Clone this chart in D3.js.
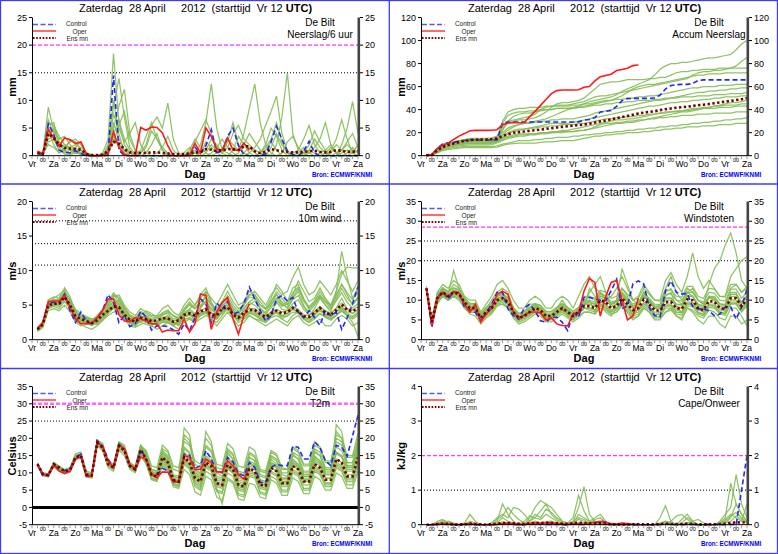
<!DOCTYPE html>
<html>
<head>
<meta charset="utf-8">
<script src="https://cdn.jsdelivr.net/npm/d3@7"></script>
<style>
  body { margin: 0; background: #fff; }
  svg { display: block; font-family: "Liberation Sans", Arial, Helvetica, sans-serif; }
</style>
</head>
<body>
<svg id="chart" width="778" height="554"></svg>
<script>
// Tick labels of the time axis (every 12 h, start Vr 12 UTC, steps of 6 h)
const dayLabels = ["Vr", "Za", "Zo", "Ma", "Di", "Wo", "Do", "Vr", "Za", "Zo", "Ma", "Di", "Wo", "Do", "Vr", "Za"];
const nightLabel = "00";
const titleText = "Zaterdag  28 April     2012  (starttijd  Vr 12 ";
const titleBold = "UTC)";
const stationName = "De Bilt";
const sourceText = "Bron: ECMWF/KNMI";
const legendNames = ["Control", "Oper", "Ens mn"];

// ---- Neerslag / 6 uur (mm), values at +6h ... +360h
const precipControl = [0.5,0.2,5.7,3.8,1.0,0.6,0.5,0.9,0.4,0,  0,0,0,0.1,14.5,1.0,0,0,0,0,  0,0,0,0,0,0,0,0,0.2,1.5,  0.5,1.8,4.7,0.6,0.8,3.5,5.0,1.8,0.2,0,  0,0,0.3,2.5,5.3,3.0,0.8,0.2,0,0.8,  2.6,0.5,0,0,0,0,0,0,0,0];
const precipOper = [0.8,0.3,4.8,3.2,1.8,3.2,2.9,2.2,2.5,0.3,  0,0,0.1,0.5,4.3,1.5,0.2,0,0,5.1,  4.6,5.2,5.1,4.1,1.8,0,0,0,0,2.2,  0.5,5.0,3.5,1.2,1.0,3.2,1.0,1.0,2.3,1.0];
const precipMean = [0.5,0.3,4.0,3.2,2.0,1.4,1.3,1.2,1.1,0.3,  0.1,0.1,0.2,0.8,2.5,2.2,1.2,0.6,0.5,0.5,  0.5,0.6,0.6,0.5,0.4,0.3,0.3,0.3,0.4,0.6,  0.6,1.2,1.1,0.8,1.0,1.2,1.2,1.0,1.7,1.7,  0.8,0.5,0.7,1.2,1.0,0.8,0.7,0.6,0.6,0.7,  0.8,0.9,0.7,0.6,0.7,1.0,0.9,0.7,0.7,0.9];
const precipMembers = [
  [0.3,0.5,6.5,4.0,1.5,2.0,1.2,0.8,0.5,0.2,  0,0,0.5,3.0,18.5,6.0,2.0,0.5,0,0,  0.5,2.0,4.0,1.0,0,0,0,0,0.5,1.0,  0.3,2.5,1.5,0.5,0,0,1.0,3.5,2.0,0.5,  0,0,0,1.5,4.0,2.0,0.5,0,0,0,  1.0,3.0,1.5,0.5,0,0,0,0.5,1.5,0.5],
  [0.8,0.4,3.5,5.0,2.5,1.0,0.5,1.5,2.5,0.5,  0,0,0,1.5,9.0,14.0,7.0,1.5,0.3,0,  0,0,0.5,1.5,3.5,1.0,0,0,0,0,  0.5,1.0,3.0,2.0,0.5,2.5,6.0,2.0,0.5,0,  0,0.5,2.0,5.0,3.5,1.0,0,0,0,0.5,  2.0,4.5,2.5,1.0,0,0,0.5,1.0,0.5,0],
  [0.2,0.3,8.8,4.5,3.0,3.5,2.0,1.0,0.5,0,  0,0,0,0,5.0,9.0,12.0,4.0,1.0,0,  0,0,0,0,0.5,0,0,0,1.0,3.0,  1.5,0.5,0,0,0,0,0,0.5,2.0,4.0,  2.5,1.0,0.5,0,0,0,0,0.5,1.0,3.0,  5.5,2.0,0.5,0,0,0,1.0,2.0,1.0,0.5],
  [0.5,0.1,2.5,3.0,1.0,0.5,1.0,1.5,0.5,0.1,  0,0,0.2,0.5,3.5,2.0,0.5,0,0,0.5,  1.5,4.5,3.0,1.0,0.5,0,0,0,0,0.5,  2.0,6.0,13.0,5.0,1.0,0.5,0,0,0,0,  0,0,1.0,2.5,1.0,0,0,0,0.5,1.5,  0.5,0,0,0,0.5,2.0,1.0,0,0,0],
  [0.4,0.2,4.5,2.0,0.5,1.0,3.0,2.5,1.0,0.2,  0,0,0,0.5,6.0,3.0,1.0,0,0,0,  0,0,0,0,0,0,0,0.5,1.5,0.5,  0,0,0.5,1.5,3.0,1.5,0.5,0,0,0,  0,0,0,0,2.0,7.0,15.0,4.0,1.0,0,  0,0,0,0,1.0,3.0,6.5,3.0,0.5,0],
  [0.6,0.6,5.5,6.0,2.0,0.8,0.5,0.5,0.3,0,  0,0,0,2.0,10.0,4.0,0.5,0,0,0,  0,0,0,0,0,0,0,0,0,0,  0,0,0,0.5,1.0,3.0,2.0,1.0,4.0,8.5,  13.0,6.0,2.0,0.5,0,0,0,0,0,0,  0.5,1.5,3.0,6.0,2.0,0.5,0,0,0,0],
  [0.3,0.3,3.0,3.5,1.5,0.3,0.2,0.5,1.0,0.5,  0.2,0,0,0.5,7.5,5.0,2.5,4.0,6.0,2.0,  0.5,0,0,0,0,0,0,0,0,0,  0,0,0,0,0,0,0,0,0,0.5,  1.5,3.0,5.5,8.0,10.8,4.0,1.0,0,0,0,  0,0,0,0,0,0.5,1.0,2.5,4.0,1.5],
  [0.7,0.5,2.0,1.5,0.5,1.5,2.5,3.0,2.0,0.5,  0,0,0,0,4.0,6.5,3.0,1.0,0,0,  0,0,0,0,0,0,0,0,0,0,  0,0.5,2.0,1.0,0.5,0,0,0,0.5,1.5,  0.5,0,0,0,0,0,0,0,0,0.5,  1.0,0.5,0,0,0,0,2.0,5.0,9.8,4.0],
  [0.2,0.4,4.0,4.5,2.5,1.5,1.0,0.5,0.3,0,  0,0,0,1.0,2.5,5.5,8.0,3.0,1.0,0.5,  2.0,5.5,7.0,5.0,9.5,3.0,0.5,0,0,0,  0,0,0,0,0,0,0,0,0,0,  0,0.5,1.5,3.0,6.0,2.5,0.5,0,0,0,  0,0,0.5,1.0,2.0,0.5,0,0,0,0],
  [0.5,0.2,6.0,5.5,3.5,2.0,1.5,2.0,1.5,0.5,  0,0,0,0,3.0,2.0,1.0,0.5,0,1.0,  3.5,6.0,3.0,1.5,0.5,0,0,0,0.5,2.5,  4.5,6.5,4.0,1.5,0.5,1.5,4.0,5.5,3.0,2.0,  1.0,0.5,0,0,0,0.5,2.5,3.5,1.5,0.5,  0,0,0,0.5,1.5,0.5,0,0,0.5,2.0]
];

// ---- Accumulated precipitation (mm)
const accumControl = [0.5,0.7,6.4,10.2,11.2,11.8,12.3,13.2,13.6,13.6,  13.6,13.6,13.6,13.7,28.2,29.2,29.2,29.2,29.2,29.2,  29.2,29.2,29.2,29.2,29.2,29.2,29.2,29.2,29.4,30.9,  31.4,33.2,37.9,38.5,39.3,42.8,47.8,49.6,49.8,49.8,  49.8,49.8,50.1,52.6,57.9,60.9,61.7,61.9,61.9,62.7,  65.3,65.8,65.8,65.8,65.8,65.8,65.8,65.8,65.8,65.8];
const accumOper = [0.8,1.1,5.9,9.1,10.9,14.1,17.0,19.2,21.7,22.0,  22.0,22.0,22.1,22.6,26.9,28.4,28.6,28.6,28.8,33.9,  38.5,43.7,48.8,53.9,56.5,57.0,57.0,57.0,57.2,59.4,  60.0,65.0,68.5,69.7,70.7,73.9,74.9,75.9,78.2,78.8];
const accumMean = [0.4,0.7,4.5,7.5,9.3,10.6,11.8,12.8,13.6,13.9,  14.0,14.1,14.3,15.0,17.0,18.8,19.9,20.5,21.0,21.6,  22.1,22.7,23.3,23.9,24.5,25.0,25.5,26.0,26.5,27.1,  27.7,28.8,29.8,30.6,31.5,32.5,33.6,34.5,35.6,36.7,  37.4,38.0,38.6,39.6,40.4,41.0,41.6,42.1,42.6,43.2,  43.8,44.3,44.9,45.6,46.3,46.9,47.6,48.3,49.0,50.0];
const accumMembers = [
  [0.3,0.5,5,8,9,10,11,12,12.5,12.5,  12.5,12.5,12.5,14,22,30,34,36,37,37,  38,39,40,40,41,41,41,42,43,45,  47,48,49,50,51,53,56,58,60,62,  64,66,70,75,78,80,80,81,81,82,  83,84,85,85,86,87,88,92,97,100],
  [0.5,0.8,6,9,11,12,13,14,15,15,  15,15,15.5,17,25,30,31,32,33,34,  36,40,42,43,44,44,44,45,46,47,  49,51,52,52,53,54,55,56,57,58,  59,60,61,62,63,64,65,66,67,70,  72,73,73,74,74,75,76,78,82,85],
  [0.6,1.2,7,10,11,12,13,14,14,14,  14,14,14,16,24,28,30,31,31,32,  33,35,38,42,45,46,46,47,48,50,  54,58,62,63,64,64,65,66,66,66,  66,67,67,68,68,70,72,73,73,74,  74,75,75,75,76,76,76,76,76,76],
  [0.4,0.6,4,7,9,10,10.5,11,11,11,  11,11,11.5,13,18,22,25,27,28,29,  30,31,32,34,36,38,40,41,42,43,  44,45,46,47,48,50,52,55,58,60,  61,62,62,63,64,65,66,67,68,69,  70,70,71,71,71,72,72,72,72,72],
  [0.5,0.7,5,8,10,11,12,13,13.5,14,  14,14,14,15,30,38,40,41,41,42,  42,42,43,43,43,43,43,44,44,45,  45,46,47,48,48,49,49,50,50,51,  51,52,52,53,54,55,56,57,58,59,  59,60,60,60,61,61,61,62,62,62],
  [0.3,0.5,3,6,8,9,10,11,12,12,  12,12,12,13,16,19,21,22,23,24,  25,26,27,28,28,28,28,29,30,31,  32,33,34,35,36,37,38,39,40,41,  42,43,43,44,45,46,46,47,47,48,  48,49,49,50,50,51,51,51,52,52],
  [0.2,0.4,4,7,8,9,10,10.5,11,11,  11,11,11,12,14,16,17,18,18,19,  19,20,20,21,21,22,22,23,24,25,  26,27,28,29,30,31,31,32,32,33,  34,35,36,37,38,38,39,39,40,41,  41,42,42,43,43,44,44,44,45,45],
  [0.4,0.6,6,9,10,11,11.5,12,12,12,  12,12,12,12.5,15,17,18,19,19,19,  19,19.5,20,20,20.5,21,21,21,21.5,22,  23,25,27,28,28,29,29,30,30,31,  31,32,32,33,33,34,34,35,35,35,  36,36,36,37,37,37,37,38,38,38],
  [0.3,0.4,3,5,6,7,7.5,8,8,8,  8,8,8,8.5,10,11,12,13,13,13,  14,14,15,15,16,16,16,17,17,18,  18,19,19,20,20,21,21,22,22,23,  23,24,24,25,25,26,26,27,27,28,  28,29,29,30,30,31,31,32,32,33],
  [0.2,0.3,2.5,4.5,5.5,6,6.5,7,7,7,  7,7,7,7.5,9,10,10.5,11,11,11,  11,11.5,12,12,12.5,13,13,13,14,15,  16,17,17,18,18,19,19,20,20,20,  21,21,22,22,23,23,24,24,25,25,  25,26,26,26,27,27,27,28,28,28],
  [0.4,0.6,4.5,7.5,9,10,11,12,12.5,12.5,  12.5,12.5,12.8,14,20,24,26,27,28,28,  29,30,30,31,31,32,32,32,33,34,  35,37,38,39,40,41,42,43,44,45,  46,47,48,48,49,50,51,52,53,54,  55,55,56,56,57,57,58,58,59,59],
  [0.3,0.5,4,6.5,8,9,9.5,10,10.5,10.5,  10.5,10.5,10.8,12,16,20,22,23,23,24,  24,25,25,26,26,27,27,27,28,28,  29,30,31,32,32,33,33,34,34,35,  35,36,36,37,37,38,38,39,39,40,  40,41,41,41,42,42,42,43,43,43],
  [0.5,0.8,5.5,8.5,10,11,12,13,13.5,13.5,  13.5,13.5,13.8,16,28,35,37,38,38,39,  39,40,40,40,41,41,41,41,42,42,  43,44,44,45,45,46,46,47,47,48,  48,48,49,49,50,50,50,51,51,51,  52,52,52,53,53,53,54,54,54,55],
  [0.2,0.4,3.5,6,7,8,8.5,9,9.5,9.5,  9.5,9.5,9.7,11,13,15,16,17,17,18,  18,19,19,20,20,20,21,21,22,22,  23,24,25,26,27,28,28,29,29,30,  31,32,33,34,35,36,37,38,38,39,  40,41,42,43,44,45,46,46,47,48]
];

// ---- 10m wind (m/s)
const windControl = [1.5,2.5,5.4,5.4,5.4,6.6,4.2,2.5,4.0,2.7,  2.3,3.2,4.2,6.5,5.4,2.5,3.5,1.9,2.3,4.1,  3.3,1.4,2.0,2.0,1.9,1.4,0.8,2.3,1.3,3.2,  5.9,5.2,2.5,5.3,4.4,5.5,3.7,4.0,5.2,7.6,  5.9,4.2,2.7,3.5,5.9,6.4,5.6,6.1,4.0,3.2,  4.2,3.2,2.1,4.2,3.5,4.0,1.5,3.2,5.2,7.7];
const windOper = [1.5,2.5,5.5,5.6,5.6,6.4,4.7,3.0,2.3,2.3,  2.3,3.2,4.2,5.9,5.9,3.6,2.7,2.6,3.2,3.0,  2.7,2.3,2.3,1.1,1.4,1.3,1.3,3.0,1.1,2.3,  6.6,6.4,1.5,4.0,5.4,6.1,3.0,0.8,3.5,5.2];
const windMean = [1.5,2.2,5.0,5.2,5.2,6.2,5.0,3.4,3.0,2.7,  2.4,2.8,3.6,4.2,4.8,4.7,3.6,2.9,2.6,3.2,  3.0,2.7,2.8,3.1,3.1,2.6,2.8,3.6,3.8,3.5,  4.1,4.4,3.6,3.5,4.5,4.7,3.6,3.2,3.9,4.3,  4.3,3.7,3.3,3.8,4.2,3.8,4.0,4.6,4.1,3.4,  3.3,3.9,4.6,3.9,3.6,4.3,5.1,4.3,4.1,4.6];
const windMembers = [
  [1.4,2.0,5.5,6.0,6.5,7.2,5.5,3.5,2.8,2.5,  2.0,2.5,3.5,4.5,5.5,5.0,3.5,2.5,2.0,3.0,  3.5,3.0,2.5,3.0,3.5,2.5,2.0,3.5,4.5,5.0,  6.5,7.5,5.5,4.0,5.5,6.0,4.5,3.0,4.5,5.5,  6.0,4.5,3.5,5.0,6.5,5.5,4.5,6.0,7.0,5.0,  3.5,4.5,6.0,5.0,4.0,7.0,12.8,9.0,6.0,7.5],
  [1.7,2.4,4.5,4.8,4.5,5.5,4.5,3.0,2.5,2.5,  2.8,3.5,4.5,5.5,6.5,5.5,4.5,3.5,3.0,4.0,  3.5,2.5,2.0,2.5,2.5,2.0,2.5,3.0,3.0,2.5,  3.0,3.5,3.0,2.5,3.5,4.5,3.5,3.0,3.5,4.0,  3.5,3.0,2.5,3.5,4.0,3.0,3.5,4.5,4.0,3.0,  2.5,3.5,4.5,3.5,3.0,3.5,4.5,3.5,3.0,3.5],
  [1.3,1.9,5.2,5.6,5.8,6.8,6.0,4.2,3.5,3.2,  2.5,2.2,2.8,3.8,5.0,5.8,4.2,3.2,2.8,2.5,  2.2,2.0,2.5,3.5,4.0,3.5,3.0,4.5,5.5,4.5,  5.0,5.5,4.0,3.0,4.0,5.5,4.0,3.5,5.5,7.0,  6.5,5.0,4.5,6.0,8.0,7.0,5.5,6.5,8.5,7.0,  5.5,6.0,7.5,6.0,5.0,7.0,9.5,10.5,10.4,10.4],
  [1.6,2.3,4.8,5.3,5.6,6.5,4.8,2.8,2.2,1.8,  1.5,2.0,2.8,3.5,4.0,4.2,3.0,2.0,1.8,2.2,  2.5,2.0,1.5,2.0,2.5,2.0,1.5,2.5,3.0,2.5,  3.5,4.0,3.0,2.0,3.0,4.0,3.0,2.0,2.5,3.5,  3.0,2.5,2.0,2.5,3.0,2.5,2.0,3.0,3.5,2.5,  2.0,2.5,3.0,2.0,2.0,3.0,3.5,3.0,2.0,2.5],
  [1.5,2.1,5.8,6.2,6.0,7.5,6.2,4.0,3.2,3.0,  2.8,3.0,4.0,5.0,6.2,6.5,5.0,4.0,3.5,4.5,  4.0,3.5,3.5,4.5,5.0,4.0,3.5,5.0,6.0,5.0,  6.0,7.0,6.0,5.0,6.5,8.0,6.5,5.0,5.5,6.5,  7.0,6.0,5.0,6.5,7.5,6.5,7.0,9.0,10.5,8.0,  6.5,7.0,8.5,7.5,6.5,8.0,10.0,8.5,7.0,8.5],
  [1.2,1.8,4.2,4.5,4.2,5.0,4.0,2.5,2.0,2.2,  2.5,2.8,3.2,3.8,4.5,4.0,3.0,2.5,2.2,2.8,  3.0,2.8,2.5,2.8,3.0,2.5,2.2,3.2,3.8,3.2,  3.5,3.8,3.2,3.0,4.0,4.5,3.5,2.5,3.0,3.5,  3.0,2.8,2.5,3.2,3.5,3.0,2.5,3.5,4.0,3.0,  2.5,3.0,3.8,3.2,2.8,3.5,4.2,3.5,2.5,0.5],
  [1.8,2.6,5.6,5.8,5.5,6.0,5.5,3.8,3.5,3.2,  3.0,2.8,3.5,4.8,6.0,5.2,4.0,3.0,2.8,3.5,  4.2,3.8,3.2,3.8,4.2,3.5,3.2,4.2,5.0,4.5,  5.5,6.0,5.0,4.5,5.5,7.0,5.5,4.5,5.0,6.5,  6.5,5.5,4.5,5.0,6.0,5.0,5.5,7.5,8.0,6.0,  4.5,5.5,6.5,5.5,5.0,6.5,8.0,6.5,5.0,6.0],
  [1.4,2.0,5.0,5.4,5.2,6.0,4.6,3.2,2.6,2.4,  2.2,2.4,3.0,4.0,4.8,4.4,3.2,2.4,2.0,2.6,  2.8,2.4,2.2,2.6,2.8,2.4,2.6,3.4,3.6,3.0,  3.8,4.2,3.4,3.2,4.2,4.8,3.8,3.0,3.2,3.8,  3.6,3.0,2.8,3.8,4.2,3.4,3.8,4.8,4.4,3.4,  3.0,3.6,4.2,3.6,3.2,4.0,4.6,3.8,3.4,4.0],
  [1.6,2.2,4.6,5.0,5.4,6.6,5.8,4.4,3.8,3.4,  3.0,3.2,4.2,5.4,6.8,6.0,4.6,3.4,3.0,3.8,  3.4,3.0,3.0,3.6,3.8,3.0,3.0,4.0,4.4,3.8,  4.6,5.4,4.4,3.6,4.8,5.8,4.6,3.8,4.6,5.4,  5.0,4.2,4.0,5.6,6.6,5.2,4.6,5.8,6.4,4.8,  4.0,5.0,6.2,5.0,4.4,5.6,6.8,5.4,4.6,5.2],
  [1.5,2.0,5.4,5.0,4.8,5.8,5.2,3.6,3.0,2.8,  2.4,2.6,3.2,4.2,5.2,4.8,3.6,2.8,2.4,3.0,  2.6,2.2,2.4,2.8,2.6,2.2,2.4,3.0,3.2,2.8,  4.4,6.8,5.2,3.4,3.8,4.6,3.6,2.8,3.6,4.6,  4.2,3.6,3.2,4.0,5.4,4.4,4.2,5.2,5.8,4.4,  3.6,4.0,4.8,4.2,3.8,4.6,6.0,4.4,3.8,4.4],
  [1.5,2.3,5.2,5.5,5.3,6.4,5.3,3.6,3.1,2.9,  2.6,2.9,3.7,4.6,5.6,5.2,3.9,3.0,2.7,3.4,  3.2,2.8,2.6,3.2,3.4,2.8,2.8,3.8,4.2,3.6,  4.8,5.6,4.6,3.8,5.0,5.6,4.2,3.4,4.2,5.0,  5.6,4.6,3.8,4.6,5.6,4.8,5.2,6.8,7.6,5.6,  4.4,5.2,6.4,5.4,4.6,5.8,7.4,6.0,5.2,6.2],
  [1.6,2.1,4.9,5.1,5.0,5.9,4.7,3.1,2.7,2.6,  2.3,2.6,3.3,4.3,5.0,4.6,3.4,2.6,2.3,2.9,  2.7,2.3,2.5,2.9,3.0,2.5,2.5,3.3,3.5,3.1,  3.6,4.0,3.3,3.1,4.1,4.6,3.4,2.8,3.4,3.9,  3.8,3.2,2.9,3.4,3.9,3.3,3.4,4.0,3.8,3.1,  2.8,3.2,3.8,3.3,3.0,3.6,4.1,3.5,3.2,3.8],
  [1.4,2.2,5.3,5.7,5.9,6.9,5.6,3.9,3.3,3.1,  2.7,3.1,4.1,5.3,6.4,6.1,4.7,3.6,3.2,4.1,  3.8,3.3,3.2,3.9,4.3,3.4,3.1,4.4,5.2,4.6,  5.4,6.2,5.1,4.2,5.2,6.4,5.0,4.1,5.0,6.2,  6.0,5.0,4.4,5.4,7.0,6.0,5.0,6.2,7.4,5.8,  4.8,5.6,7.0,5.8,4.8,6.2,8.0,6.8,5.8,6.8],
  [1.7,2.5,5.1,5.3,5.2,6.2,4.9,3.3,2.9,2.6,  2.2,2.5,3.3,4.0,4.6,4.5,3.4,2.7,2.4,3.1,  2.9,2.5,2.7,3.0,3.0,2.4,2.6,3.5,3.7,3.3,  3.9,4.1,3.5,3.3,4.3,4.4,3.3,3.0,3.6,4.1,  4.0,3.4,3.0,3.6,4.0,3.5,3.8,4.4,3.9,3.2,  3.1,3.7,4.4,3.7,3.4,4.1,4.8,4.0,3.8,4.3],
  [1.3,2.0,4.7,5.0,5.1,6.0,4.8,3.3,2.8,2.6,  2.3,2.7,3.5,4.1,4.9,4.8,3.7,2.9,2.6,3.3,  3.1,2.6,2.7,3.0,3.2,2.7,2.9,3.7,4.0,3.6,  4.2,4.6,3.8,3.6,4.7,5.0,3.9,3.4,4.1,4.5,  4.5,3.9,3.4,4.0,4.4,4.0,4.2,4.8,4.3,3.6,  3.5,4.1,4.8,4.1,3.8,4.5,5.3,4.5,4.3,4.8]
];

// ---- Windstoten (m/s)
const gustControl = [13,3.1,10.7,12.2,10.3,12,12,8.2,7.5,6.9,  4.8,6.9,9,12,12,7.8,6.1,5.2,8,9,  7.3,4.8,4.4,5.7,5.7,4.4,2.3,6.9,5.7,10.7,  10.7,10.3,10,9.9,12.4,15.3,7.8,8.6,14.1,14.9,  14.1,8.2,6.1,5.8,12.4,14.9,12,11.6,11.7,8.4,  7.8,7.8,7.3,6.1,6.5,8.2,8.3,5.2,8.3,12.8];
const gustOper = [13,3.5,10.3,12,11,12.2,11.8,9,7,9,  4.5,6.5,8,11.5,12.3,11.5,7,5.5,6.2,7,  7,6.8,5,5.5,4,3.6,3.5,6.5,6.8,12.3,  15.5,14.5,6,11,14.5,15,10,5,6,10.5];
const gustMean = [13,4.5,10.5,12,11,12,11.5,9.5,8,8,  5.5,7,8,10,10.5,9.5,7,5.5,6,7,  8,7.5,6,6,7,8,7,6,7,8.5,  8.5,8,10,9.5,8,8.5,10.5,9,7.5,8,  10.2,9,7.5,7.3,9.5,9.6,8,7.8,10.2,10,  8,7.5,9.8,9.6,8,7.8,10.5,10.5,8.5,10.2];
const gustMembers = [
  [12.5,3.5,11,13,12,14,13,10,9,9,  6,8,10,12,13,12,8,6,7,9,  9,8,6,6,8,10,8,6,8,11,  11,10,12,11,9,10,13,11,8,9,  12,10,8,8,12,13,10,9,13,12,  10,9,14,18,20,24,27,22,15,13],
  [13.5,4,10,11,10,11,10,8,7,7,  4.5,6,7,9,9.5,8,6,4.5,5,6,  7,6.5,5,5,6,7,6,5,6,7,  7,6.5,8,7.5,6.5,7,8.5,7,5.5,6,  8,7,5.5,5.5,7,7.5,6,5.5,8,7.5,  6,5.5,7.5,7,5.5,5,8,8,6,3.5],
  [12.8,5,12,14,13,15,14,11,10,10,  7,9,11,14,15,13,10,8,8,10,  11,10,8,8,10,11,10,8,11,14,  16,13,12,10,11,13,16,13,10,11,  14,12,10,10,15,17,14,12,16,22,  16,13,15,13,11,11,16,18,20,21],
  [13,4,9,11,10,11,10.5,8.5,7,7,  5,6,7,9,9,8.5,6.5,5,5.5,6.5,  7.5,7,5.5,5.5,6.5,7.5,6.5,5.5,6.5,8,  8,7.5,9.5,9,7.5,8,10,8.5,7,7.5,  9.5,8.5,7,7,9,9,7.5,7,9.5,9.5,  7.5,7,9,9,7.5,7.5,10,10,8,9.5],
  [12.7,5.5,11,12.5,11.5,17.5,13,10,8.5,8.5,  6,7.5,8.5,11,11.5,10,7.5,6,6.5,7.5,  8.5,8,6.5,6.5,7.5,8.5,7.5,6.5,7.5,9,  9,8.5,10.5,10,8.5,9,11,9.5,8,8.5,  11,9.5,8,8,10,10,8.5,8,11,11,  8.5,8,10.5,10,8.5,8.5,11,11,9,11],
  [13.2,4.2,10.2,12.2,11.2,12.5,12,9.5,8,8,  5.5,7.2,8.2,10.5,11,10,7.2,5.8,6.2,7.2,  8.2,7.8,6.2,6.2,7.2,8.2,7.2,6.2,7.2,8.8,  12,14,16,12,9,10,18,14,10,9,  11,10,8,9,13,16,12,10,12,13,  10,9,11,11,9,9,13,14,12,13],
  [13,3.8,9.5,11,10,11,10.5,8,6.5,6,  4,5.5,6.5,8.5,9,8,5.5,4,4.5,5.5,  6.5,6,4.5,4.5,5.5,6.5,5.5,4.5,5.5,7,  7,6.5,8.5,8,6.5,7,9,7.5,6,6.5,  8.5,7.5,6,5.8,8,8,6.5,6.2,8.5,8.5,  6.5,6,8.2,8,6.5,6.2,9,9,7,8.5],
  [12.9,4.8,11.5,13,12,13,12.5,10.5,9,9,  6.5,8,9,11,11.5,10.5,8,6.5,7,8,  9,8.5,7,7,8,9,8,7,8,9.5,  9.5,9,11,10.5,9,9.5,11.5,10,8.5,9,  11,10,8.5,8.3,10.5,10.5,9,8.7,11,11,  9,8.5,10.7,10.5,9,8.7,11.5,11.5,9.5,11],
  [13.1,4.5,10.8,12.8,11,12.5,12,9,7.5,8.5,  5,6.5,8.5,11,12,9,6.5,5,6,8,  9,7,5,6,8,9,6,5,7,10,  10,7,9,8,7,9,12,9,6,8,  12,9,6,7,11,12,8,7,12,11,  8,7,11,10,8,7,12,12,8,10],
  [12.6,4.3,9.8,11.8,10.8,11.8,11.2,9.2,7.8,7.8,  5.2,6.8,7.8,9.8,10.2,9.2,6.8,5.2,5.8,6.8,  7.8,7.2,5.8,5.8,6.8,7.8,6.8,5.8,6.8,8.2,  13,11,9,7,6,8,9,7,5,6,  8,7,5,5,7,8,6,5,8,7,  5,4,6,6,4,3,6,6,4,5],
  [13,4.6,10.6,12.1,11.1,12.1,11.6,9.6,8.1,8.1,  5.6,7.1,8.1,10.1,10.6,9.6,7.1,5.6,6.1,7.1,  8.1,7.6,6.1,6.1,7.1,8.1,7.1,6.1,7.1,8.6,  9.5,9,11,10.5,9,9.5,11.5,10,8.5,9,  11.2,10,8.5,8.3,10.5,10.6,9,8.8,11.2,11,  9,8.5,10.8,10.6,9,8.8,11.5,11.5,9.5,11.2],
  [12.8,4.2,10.2,11.6,10.6,11.6,11.1,9.1,7.6,7.6,  5.1,6.6,7.6,9.6,10.1,9.1,6.6,5.1,5.6,6.6,  7.6,7.1,5.6,5.6,6.6,7.6,6.6,5.6,6.6,8.1,  7.5,7,9,8.5,7,7.5,9.5,8,6.5,7,  9.2,8,6.5,6.3,8.5,8.6,7,6.8,9.2,9,  7,6.5,8.8,8.6,7,6.8,9.5,9.5,7.5,9.2],
  [13.3,5.2,11.5,13.2,12.2,13.2,12.7,10.7,9.2,9.2,  6.7,8.2,9.2,11.2,11.7,10.7,8.2,6.7,7.2,8.2,  9.2,8.7,7.2,7.2,8.2,9.2,8.2,7.2,8.2,9.7,  11,10.5,12.5,12,10.5,11,13,11.5,10,10.5,  13,11.5,10,9.8,12.5,12.6,11,10.8,13.5,13.5,  11,10.5,13,12.8,11,10.8,14,14,12,13.5],
  [12.9,3.9,9.9,11.4,10.4,11.4,10.9,8.9,7.4,7.4,  4.9,6.4,7.4,9.4,9.9,8.9,6.4,4.9,5.4,6.4,  7.4,6.9,5.4,5.4,6.4,7.4,6.4,5.4,6.4,7.9,  8,7.5,9.5,9,7.5,8,10,8.5,7,7.5,  9,8,6.5,6.3,8.5,8.6,7,6.8,9,8.8,  6.8,6.3,8.6,8.4,6.8,6.6,9.2,9.2,7.2,8.8],
  [13.1,4.7,10.9,12.5,11.5,12.5,12,10,8.5,8.5,  6,7.5,8.5,10.5,11,10,7.5,6,6.5,7.5,  8.5,8,6.5,6.5,7.5,8.5,7.5,6.5,7.5,9,  10,9.5,11.5,11,9.5,10,12,10.5,9,9.5,  12,10.5,9,8.8,11.5,11.6,10,9.8,12,12,  10,9.5,12,11.8,10,9.8,12.8,12.8,10.5,12]
];

// ---- T2m (Celsius)
const tempControl = [12.5,9,9.4,12.3,11.1,10.6,11.1,14.5,15.4,9.2,  9.2,19.3,17.8,14,11.6,18.3,16.9,12.1,11.1,16.9,  14,9.4,9.2,11.3,10.6,7.7,7.4,15.4,15.1,11.3,  12.1,16.4,14,10.3,10.1,14.5,13.2,9.7,9.2,13,  11.6,7.2,7.2,11.6,12.5,12.1,12.1,17.7,17.4,14,  14,19,17.4,13.5,12.1,18,17.4,14.8,20.7,26.7];
const tempOper = [12.5,9.5,9.5,12.3,10.5,9.8,10.5,14,14.7,9,  9,19,17.5,13.5,11.5,18,17,12.5,11,14.5,  14,9.5,8.5,10.3,10.2,7.4,7.3,15,14.5,11,  11,14,13,10.3,10.3,13.5,12,9.5,8.2,11.5];
const tempMean = [12.5,9.7,9.3,12.5,11.5,10.5,10.8,14.5,15,9.5,  9.3,18.7,17.3,12.5,11.5,17.8,16.5,12,11,16.7,  14,9.5,9,14.5,13,8,7.5,14.5,13,8.5,  7.5,13,12,7,6.5,12.3,11,6.5,6,11.3,  10.5,6.5,6.3,11.5,10.5,7,7,12,11,7.5,  7.5,12.5,11.5,8,8,14,13,9,9,14.5];
const tempMembers = [
  [12.8,10,9.8,13,12,11,11.5,15.5,16,10.5,  10,19.5,18.5,13.5,12.5,19,18,13,12,18,  16,11,10.5,17,16,11,10.5,19,18,12.5,  11.5,18,16.5,11.5,11,17,15.5,10.5,10,16,  15,10.5,10,16,15,11,11,17,16,12,  12,18,17,13,13,20,19,14.5,14.5,20],
  [12.2,9.2,8.8,11.8,10.5,9.8,10.2,13.8,14.2,8.8,  8.5,17.8,16.5,11.5,10.5,16.5,15,11,10,15,  12.5,8,7.5,12,10.5,6,5.5,11,9.5,4.5,  3.5,9,8,3,2,8,7,2.5,2,7,  6.5,3,2.5,8,7,3.5,3.5,8.5,7.5,4,  4,9,8,5,5,10,9,5.5,5.5,10.5],
  [12.6,9.8,9.5,12.8,11.8,10.8,11,14.8,15.4,9.8,  9.6,19,17.8,13,11.8,18.2,17,12.3,11.2,17.2,  14.5,9.8,9.2,15,13.5,8.5,8,16,14.5,9.5,  8.5,15,13.5,8,7.5,14,12.5,7.5,7,13,  12,8,7.5,13,12,8.5,8.5,14,12.5,9,  9,15,13.5,10,10,16,15,11,11,17],
  [12.4,9.5,9.2,12.2,11.2,10.2,10.6,14.2,14.8,9.2,  9,18.5,17,12.2,11.2,17.5,16,11.8,10.8,16.2,  13.5,9,8.5,14,12.5,7.5,7,13.5,12,7.5,  6.5,12,11,6,5.5,11,10,5.5,5,10,  9.5,5.5,5,10.5,9.5,6,6,11,10,6.5,  6.5,11.5,10.5,7,7,12.5,11.5,8,8,13],
  [12.5,9.6,9.4,12.6,11.6,10.6,11,14.6,15.2,9.6,  9.4,18.9,17.5,12.7,11.6,18,16.7,12.1,11.1,16.9,  15,10.5,10,16.5,15,9.5,9,21,19.5,10,  9,14.5,13,8.5,8,14.5,13,8,7.5,13.5,  12.5,8,7.5,14,12.5,8.5,8.5,15.5,14,9.5,  9.5,16.5,15,10.5,10.5,22,20,12,12,18],
  [12.7,9.9,9.6,12.9,11.9,10.9,11.2,15,15.6,10,  9.8,19.5,18,13.2,12,18.8,17.5,12.6,11.5,18,  15.5,10,9.5,15.5,14,8,7.5,23,21,11,  10,22,19,10,9,16,14,8.5,8,14.5,  13.5,7.5,7,12.5,11.5,7.5,7.5,13,12,8,  8,13.5,12.5,8.5,8.5,24,22,13,13,19],
  [12.3,9.4,9.1,12,10.8,10,10.3,14,14.5,9,  8.8,18,16.8,12,11,17,15.8,11.5,10.5,15.5,  13,8.5,8,13,11.5,6.5,6,12.5,11,6,  5,10.5,9.5,4.5,4,10,9,4,3.5,9,  8.5,4,3.5,9,8,4.5,4.5,10,9,5,  5,10.5,9.5,6,6,11.5,10.5,6.5,6.5,12],
  [12.6,9.7,9.4,12.6,11.4,10.4,10.8,14.6,15.2,9.6,  9.4,19.2,17.8,12.8,11.6,18.5,17.2,12.4,11.2,17.5,  15.5,11,10.5,16,14.5,9,8.5,17,15.5,10.5,  9.5,17.5,16,10.5,10,16.5,15,10,9.5,15.5,  14.5,9.5,9,15,14,10,10,16,15,10.5,  10.5,17,16,11.5,11.5,19,18,13,13,18.5],
  [12.4,9.4,9,12.3,11,10.3,10.6,14.3,14.9,9.3,  9.2,18.6,17.2,12.4,11.4,17.3,16,11.7,10.6,16,  13,8.5,8,13.5,12,7,6.5,13,11.5,6.5,  5.5,11.5,10.5,5,4.5,11.5,10,5,4.5,10.5,  10,6,5.5,11.5,10.5,6.5,6.5,12,11,7.5,  7.5,12,11,7,7,13,12,8.5,8.5,14],
  [12.5,9.6,9.3,12.5,11.3,10.5,10.8,14.4,15,9.4,  9.3,18.8,17.4,12.6,11.5,17.8,16.5,12,11,16.7,  14,9.5,9,14.5,13,8,7.5,15,13.5,8.5,  7.5,13.5,12,7,6.5,12.5,11,6.5,6,11.5,  11,6.5,6,11.5,10.5,7,7,12.5,11.5,8,  8,13,12,8.5,8.5,14,13,9.5,9.5,15.5],
  [12.6,9.8,9.6,12.9,11.7,10.7,11.1,14.9,15.5,9.9,  9.7,19.4,18.1,13.1,12.1,18.6,17.4,12.8,11.8,17.9,  16.5,12,11.5,18,16.5,12,11.5,20,18.5,13.5,  12.5,20,18,12.5,12,18.5,17,12,11.5,17.5,  16.5,11,10.5,16.5,15.5,11.5,11,17.5,16.5,12.5,  12.5,19,17.5,13.5,13.5,21,20,15,15,21.5],
  [12.3,9.3,9,12.1,10.9,10.1,10.5,14.1,14.6,9.1,  8.9,18.3,16.9,12.1,11.1,17.1,15.9,11.5,10.4,15.8,  12.8,8.2,7.7,12.5,11,6.8,6.2,14,12.5,7,  6,12.5,11,5.5,1,8.5,7.5,3.5,3,9.5,  9,4.5,4,10,9,5,5,10.5,9.5,5.5,  5.5,11,10,6.5,6.5,12,11,7.5,7.5,13.5],
  [12.7,9.8,9.5,12.7,11.6,10.7,11,14.7,15.3,9.8,  9.5,19.1,17.6,12.9,11.8,18.4,17.1,12.4,11.4,17.6,  14.8,10.2,9.7,15.8,14.2,9,8.5,17.5,16,9.5,  8.5,16,14.5,9,8.5,15.5,14,9,8.5,14.5,  13.5,9,8.5,14.5,13.5,9.5,9,15,14,10,  10,16,15,11,11,17.5,16.5,12,12,16],
  [12.5,9.5,9.2,12.4,11.2,10.4,10.7,14.4,14.9,9.4,  9.2,18.6,17.2,12.4,11.3,17.6,16.3,11.9,10.9,16.4,  13.8,9.2,8.7,14.2,12.7,7.7,7.2,14.2,12.7,8,  7,12.5,11.5,6.5,6,11.8,10.5,6,5.5,12,  11.5,7,6.5,12.5,11.5,7.5,7.5,13,12,8.5,  8.5,14,13,9.5,9.5,15.5,14.5,10.5,10.5,16.5],
  [12.4,9.6,9.4,12.5,11.4,10.6,10.9,14.5,15.1,9.5,  9.4,18.8,17.4,12.6,11.5,17.9,16.6,12.1,11,16.8,  14.2,9.6,9.1,14.8,13.2,8.2,7.7,15.5,14,9,  8,14,12.5,7.5,7,13,11.5,7,6.5,12.5,  12,7.5,7,13,12,8,8,13.5,12.5,9,  9,14.5,13.5,9.5,9.5,16,15,11.5,11.5,17.5]
];

// ---- Cape / Onweer (kJ/kg)
const capeControl = [0,0,0.01,0.02,0.01,0,0,0.02,0.01,0,  0,0,0,0.01,0.02,0.03,0.01,0,0,0.02,  0.03,0.02,0.01,0.01,0.01,0,0,0.02,0.01,0.01,  0.03,0.04,0.1,0.08,0.02,0.01,0.02,0.01,0,0,  0,0,0,0.01,0.02,0.01,0,0,0.01,0.01,  0,0,0.01,0.01,0,0,0.01,0,1.0,2.0];
const capeOper = [0,0,0.01,0.02,0.02,0.01,0,0.02,0.03,0.01,  0,0,0,0.01,0.03,0.04,0.03,0.01,0.01,0.03,  0.05,0.04,0.05,0.06,0.03,0.02,0.01,0.02,0.02,0.01,  0.04,0.07,0.1,0.06,0.03,0.02,0.05,0.03,0.01,0.01];
const capeMean = [0,0,0.02,0.03,0.02,0.01,0,0.01,0.03,0.02,  0.01,0,0.01,0.03,0.05,0.05,0.04,0.03,0.02,0.04,  0.05,0.05,0.06,0.05,0.04,0.03,0.02,0.04,0.06,0.05,  0.03,0.03,0.04,0.03,0.01,0.01,0.01,0.01,0.01,0.01,  0.01,0.01,0.01,0.02,0.03,0.02,0.02,0.02,0.03,0.02,  0.01,0.01,0.01,0.01,0.02,0.03,0.05,0.07,0.06,0.08];
const capeMembers = [
  [0,0,0.05,0.12,0.08,0.03,0,0.05,0.3,0.1,  0,0,0,0.1,0.6,0.3,0.1,0,0,0.2,  0.5,0.7,0.6,0.5,0.3,0.1,0.05,0.2,0.85,0.4,  0.1,0.05,0.02,0,0,0,0,0,0,0,  0,0,0,0.2,0.55,0.1,0,0.15,0.3,0.1,  0,0,0,0,0.05,0.2,1.2,0.6,0.3,0.1],
  [0,0,0.1,0.15,0.05,0,0,0.02,0.05,0.02,  0,0,0.05,0.2,0.3,0.2,0.5,0.45,0.3,0.1,  0.2,0.4,0.6,0.3,0.15,0.05,0,0.1,0.5,1.1,  0.3,0.1,0.05,0.02,0,0,0,0,0,0,  0,0,0,0,0.1,0,0,0,0.05,0.1,  0.15,0.05,0,0,0.1,0.3,0.5,1.45,0.6,0.2],
  [0,0,0.02,0.05,0.1,0.05,0,0,0.1,0.05,  0,0,0.05,0.15,0.25,0.5,0.3,0.15,0.05,0.1,  0.3,0.2,0.45,0.35,0.2,0.1,0.05,0.05,0.3,0.2,  0.1,0.2,0.3,0.1,0,0,0,0,0,0,  0,0,0,0.05,0.1,0.05,0,0.05,0.2,0.1,  0,0,0,0,0.05,0.1,0.25,0.35,0.2,0.05],
  [0,0,0.03,0.08,0.04,0.02,0,0.02,0.02,0.02,  0,0,0,0.05,0.2,0.1,0.05,0.02,0.1,0.25,  0.2,0.15,0.3,0.2,0.1,0.05,0.02,0.1,0.2,0.15,  0.05,0.15,0.2,0.05,0,0,0,0,0,0,  0,0,0,0,0.05,0.1,0.25,0.3,0.15,0.05,  0,0,0,0,0.02,0.15,0.3,0.2,0.1,0.6],
  [0,0,0.02,0.03,0.02,0,0,0,0.01,0,  0,0,0,0.02,0.08,0.05,0.02,0,0,0.05,  0.1,0.05,0.08,0.1,0.05,0.02,0,0.05,0.15,0.1,  0.05,0.1,0.05,0.02,0,0,0,0,0,0,  0,0,0,0.02,0.05,0.02,0,0.02,0.05,0.02,  0,0,0,0,0.02,0.05,0.2,0.6,0.3,0.1],
  [0,0,0.01,0.02,0.01,0,0,0,0,0,  0,0,0,0.01,0.03,0.02,0.01,0,0,0.02,  0.03,0.02,0.03,0.04,0.02,0.01,0,0.03,0.06,0.05,  0.02,0.03,0.02,0.01,0,0,0,0,0,0,  0,0,0,0.01,0.02,0.01,0,0.01,0.02,0.01,  0,0,0,0,0.01,0.05,0.1,0.25,0.15,0.05]
];

// Panel definitions (column, row, what to draw)
const panels = [
  { col: 0, row: 0, name: "Neerslag/6 uur", unit: "mm", domain: [0, 25], step: 5,
    members: precipMembers, control: precipControl, oper: precipOper, mean: precipMean, magenta: 20, dotted: [15] },
  { col: 1, row: 0, name: "Accum Neerslag", unit: "mm", domain: [0, 120], step: 20,
    members: accumMembers, control: accumControl, oper: accumOper, mean: accumMean, magenta: null, dotted: [] },
  { col: 0, row: 1, name: "10m wind", unit: "m/s", domain: [0, 20], step: 5,
    members: windMembers, control: windControl, oper: windOper, mean: windMean, magenta: null, dotted: [10.8, 13.9, 17.2] },
  { col: 1, row: 1, name: "Windstoten", unit: "m/s", domain: [0, 35], step: 5,
    members: gustMembers, control: gustControl, oper: gustOper, mean: gustMean, magenta: 28.5, dotted: [20, 25] },
  { col: 0, row: 2, name: "T2m", unit: "Celsius", domain: [-5, 35], step: 5,
    members: tempMembers, control: tempControl, oper: tempOper, mean: tempMean, magenta: 30, dotted: [25], zeroLine: true },
  { col: 1, row: 2, name: "Cape/Onweer", unit: "kJ/kg", domain: [0, 4], step: 1,
    members: capeMembers, control: capeControl, oper: capeOper, mean: capeMean, magenta: 2, dotted: [1] }
];

const svg = d3.select("#chart");
const colX = [0, 389];
const rowY = [0, 184, 369];
const frame = "#3b3bff";

// plot box inside a panel
const L = 32, R = 358, T = 17.5, B = 155.7;
const x = d3.scaleLinear().domain([0, 60]).range([L, R]);

function drawPanel(p) {
  const g = svg.append("g").attr("transform", `translate(${colX[p.col]},${rowY[p.row]})`);
  const y = d3.scaleLinear().domain(p.domain).range([B, T]);
  const ticks = d3.range(p.domain[0], p.domain[1] + p.step / 2, p.step);

  // title
  const title = g.append("text")
    .attr("x", 195.5).attr("y", 11.5)
    .attr("text-anchor", "middle")
    .attr("xml:space", "preserve")
    .style("white-space", "pre")
    .style("font-size", "11px");
  title.append("tspan").text(titleText);
  title.append("tspan").attr("font-weight", "bold").text(titleBold);

  // reference lines
  p.dotted.forEach(v => {
    g.append("line").attr("x1", L).attr("x2", R).attr("y1", y(v)).attr("y2", y(v))
      .attr("stroke", "#000").attr("stroke-width", 1).attr("stroke-dasharray", "1,2");
  });
  if (p.zeroLine) {
    g.append("line").attr("x1", L).attr("x2", R).attr("y1", y(0)).attr("y2", y(0))
      .attr("stroke", "#000").attr("stroke-width", 3);
  }

  // ensemble members
  const line = d3.line().x((d, i) => x(i + 1)).y(d => y(d));
  g.append("g").selectAll("path").data(p.members).join("path")
    .attr("d", line)
    .attr("fill", "none")
    .attr("stroke", "#84bb55")
    .attr("stroke-opacity", 0.9)
    .attr("stroke-width", 1.25);

  if (p.magenta !== null) {
    g.append("line").attr("x1", L).attr("x2", R).attr("y1", y(p.magenta)).attr("y2", y(p.magenta))
      .attr("stroke", p.zeroLine ? "#ff66ff" : "#ff33ff")
      .attr("stroke-width", p.zeroLine ? 2.5 : 1.4)
      .attr("stroke-dasharray", "4,2");
  }

  // control, oper, ensemble mean
  g.append("path").attr("d", line(p.control)).attr("fill", "none")
    .attr("stroke", "#2525ff").attr("stroke-width", 1.6).attr("stroke-dasharray", "5,3");
  g.append("path").attr("d", line(p.oper)).attr("fill", "none")
    .attr("stroke", "#ff1a1a").attr("stroke-width", 1.6);
  g.append("path").attr("d", line(p.mean)).attr("fill", "none")
    .attr("stroke", "#7a0000").attr("stroke-width", 2.6).attr("stroke-dasharray", "2.4,2.4");

  // axes
  g.append("line").attr("x1", L + 0.5).attr("x2", L + 0.5).attr("y1", T).attr("y2", B)
    .attr("stroke", "#000").attr("stroke-width", 1);
  g.append("line").attr("x1", R + 0.8).attr("x2", R + 0.8).attr("y1", T).attr("y2", B)
    .attr("stroke", "#444").attr("stroke-width", 2.6);
  g.append("line").attr("x1", L).attr("x2", R + 2).attr("y1", B).attr("y2", B)
    .attr("stroke", "#000").attr("stroke-width", 1);

  ticks.forEach(v => {
    g.append("line").attr("x1", L - 3).attr("x2", L).attr("y1", y(v)).attr("y2", y(v)).attr("stroke", "#000");
    g.append("line").attr("x1", R + 2).attr("x2", R + 5).attr("y1", y(v)).attr("y2", y(v)).attr("stroke", "#000");
    g.append("text").attr("x", L - 5).attr("y", y(v)).attr("dy", "0.35em")
      .attr("text-anchor", "end").style("font-size", "9px").text(v);
    g.append("text").attr("x", R + 7).attr("y", y(v)).attr("dy", "0.35em")
      .attr("text-anchor", "start").style("font-size", "9px").text(v);
  });

  // time axis: small ticks every 6 h, day labels at 12 UTC, "00" at 00 UTC
  g.append("g").selectAll("line").data(d3.range(0, 61)).join("line")
    .attr("x1", d => x(d)).attr("x2", d => x(d))
    .attr("y1", B + 0.5).attr("y2", B + 3.5)
    .attr("stroke", "#999").attr("stroke-width", 1);
  g.append("g").selectAll("text").data(dayLabels).join("text")
    .attr("x", (d, i) => x(i * 4)).attr("y", 167)
    .attr("text-anchor", "middle").style("font-size", "8.5px").text(d => d);
  g.append("g").selectAll("text").data(dayLabels.slice(1)).join("text")
    .attr("x", (d, i) => x(i * 4 + 2)).attr("y", 161.5)
    .attr("text-anchor", "middle").style("font-size", "5.5px").text(nightLabel);

  g.append("text").attr("x", 195).attr("y", 177.5).attr("text-anchor", "middle")
    .style("font-size", "11px").style("font-weight", "bold").text("Dag");
  g.append("text").attr("x", 312).attr("y", 176.5)
    .style("font-size", "6.3px").style("font-weight", "bold").attr("fill", "#0000ff").text(sourceText);

  g.append("text").attr("transform", "translate(16,87) rotate(-90)")
    .attr("text-anchor", "middle").style("font-size", "11px").style("font-weight", "bold").text(p.unit);

  // station and parameter
  g.append("text").attr("x", 320).attr("y", 26.3).attr("text-anchor", "middle")
    .style("font-size", "10px").text(stationName);
  g.append("text").attr("x", 320).attr("y", 38).attr("text-anchor", "middle")
    .style("font-size", "10px").text(p.name);

  // legend
  const lg = g.append("g");
  lg.append("line").attr("x1", 33).attr("x2", 56).attr("y1", 24.5).attr("y2", 24.5)
    .attr("stroke", "#5555ff").attr("stroke-width", 1.6).attr("stroke-dasharray", "5,2.5");
  lg.append("line").attr("x1", 33).attr("x2", 56).attr("y1", 31).attr("y2", 31)
    .attr("stroke", "#ff1a1a").attr("stroke-width", 1.3);
  lg.append("line").attr("x1", 33).attr("x2", 56).attr("y1", 38).attr("y2", 38)
    .attr("stroke", "#7a0000").attr("stroke-width", 2).attr("stroke-dasharray", "1.6,1.6");
  lg.append("text").attr("x", 66).attr("y", 26.4).style("font-size", "6.4px").attr("fill", "#222").text(legendNames[0]);
  lg.append("text").attr("x", 72.5).attr("y", 33.6).style("font-size", "6.4px").attr("fill", "#222").text(legendNames[1]);
  lg.append("text").attr("x", 66.5).attr("y", 40.8).style("font-size", "6.4px").attr("fill", "#222").text(legendNames[2]);
}

panels.forEach(drawPanel);

// blue frame between the panels
svg.append("rect").attr("x", 0.5).attr("y", 0.5).attr("width", 777).attr("height", 553)
  .attr("fill", "none").attr("stroke", frame).attr("stroke-width", 1.3);
svg.append("line").attr("x1", 389.3).attr("x2", 389.3).attr("y1", 0).attr("y2", 554)
  .attr("stroke", frame).attr("stroke-width", 1.3);
[184, 368.5].forEach(v => {
  svg.append("line").attr("x1", 0).attr("x2", 778).attr("y1", v).attr("y2", v)
    .attr("stroke", frame).attr("stroke-width", 1.3);
});
</script>
</body>
</html>
